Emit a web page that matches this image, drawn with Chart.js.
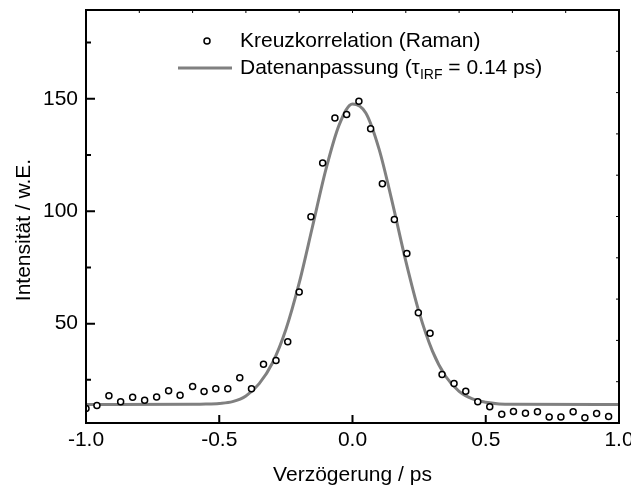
<!DOCTYPE html>
<html>
<head>
<meta charset="utf-8">
<script src="https://cdn.jsdelivr.net/npm/chart.js@4.4.1/dist/chart.umd.min.js"></script>
<style>
  html, body { margin: 0; padding: 0; background: #fff; }
</style>
</head>
<body>
<canvas id="chart" width="631" height="491"></canvas>
<script>
// Kreuzkorrelation (Raman): delay in ps and intensity in w.E.
const delayPs = [-1.0, -0.959, -0.914, -0.870, -0.825, -0.780, -0.735, -0.690, -0.647, -0.600,
  -0.557, -0.513, -0.468, -0.423, -0.379, -0.334, -0.287, -0.243, -0.200, -0.156,
  -0.112, -0.066, -0.022, 0.024, 0.068, 0.112, 0.157, 0.204, 0.247, 0.291,
  0.336, 0.381, 0.425, 0.470, 0.515, 0.560, 0.604, 0.649, 0.694, 0.738,
  0.782, 0.828, 0.872, 0.916, 0.961];
const crossCorr = [12.2, 13.6, 17.9, 15.2, 17.3, 15.9, 17.4, 20.2, 18.1, 22.0,
  19.8, 21.0, 21.0, 25.9, 21.0, 31.9, 33.6, 41.9, 64.1, 97.5,
  121.5, 141.5, 143.0, 148.9, 136.7, 112.2, 96.3, 81.2, 54.8, 45.7,
  27.4, 23.4, 19.9, 15.2, 13.0, 9.7, 10.9, 10.1, 10.8, 8.5,
  8.5, 10.8, 8.1, 10.0, 8.7];

// Datenanpassung (fit curve)
const fitX = [-1.0, -0.6, -0.55, -0.5, -0.45, -0.4, -0.35, -0.3, -0.25, -0.2,
  -0.15, -0.1, -0.05, 0.0, 0.05, 0.1, 0.15, 0.2, 0.25, 0.3,
  0.35, 0.4, 0.45, 0.5, 0.55, 0.6, 1.0];
const fitY = [14.0, 14.1, 14.2, 14.5, 15.3, 17.8, 23.3, 32.6, 47.4, 68.1,
  93.2, 118.5, 138.4, 147.7, 143.7, 127.5, 103.6, 77.8, 55.0, 37.8,
  26.5, 19.9, 16.5, 15.0, 14.3, 14.1, 14.0];

const xTicks = [-1.0, -0.5, 0.0, 0.5, 1.0];
const yTicks = [50, 100, 150];
const yMinorTicks = [25, 75, 125, 175];
const yTitle = 'Intensität / w.E.';

const FONT = "'Liberation Sans', Arial, sans-serif";
const GREY = '#808080';

// frame, inward ticks, y title and the legend (with subscript)
const framePlugin = {
  id: 'frame',
  afterDraw(chart) {
    const { ctx, chartArea: a, scales: { x, y } } = chart;
    ctx.save();
    ctx.strokeStyle = '#000';
    ctx.lineWidth = 2;
    ctx.strokeRect(a.left, a.top, a.right - a.left, a.bottom - a.top);

    ctx.beginPath();
    xTicks.forEach(v => {
      const px = x.getPixelForValue(v);
      ctx.moveTo(px, a.bottom);
      ctx.lineTo(px, a.bottom - 8);
    });
    yTicks.forEach(v => {
      const py = y.getPixelForValue(v);
      ctx.moveTo(a.left, py);
      ctx.lineTo(a.left + 9, py);
    });
    yMinorTicks.forEach(v => {
      const py = y.getPixelForValue(v);
      ctx.moveTo(a.left, py);
      ctx.lineTo(a.left + 5, py);
    });
    ctx.stroke();

    // tiny ticks on the top and right axes
    ctx.lineWidth = 1;
    ctx.beginPath();
    for (let i = 1; i < 10; i++) {
      const px = a.left + (a.right - a.left) * i / 10;
      ctx.moveTo(px, a.top);
      ctx.lineTo(px, a.top + 3);
      const py = a.top + (a.bottom - a.top) * i / 10;
      ctx.moveTo(a.right, py);
      ctx.lineTo(a.right - 3, py);
    }
    ctx.stroke();

    ctx.fillStyle = '#000';
    ctx.textBaseline = 'middle';
    ctx.font = '21px ' + FONT;

    // y axis title, sits a bit below the middle of the axis
    ctx.save();
    ctx.translate(24, 230);
    ctx.rotate(-Math.PI / 2);
    ctx.textAlign = 'center';
    ctx.fillText(yTitle, 0, 0);
    ctx.restore();

    // legend
    ctx.textAlign = 'left';
    ctx.beginPath();
    ctx.arc(207, 41, 3, 0, Math.PI * 2);
    ctx.lineWidth = 1.5;
    ctx.strokeStyle = '#000';
    ctx.stroke();
    ctx.fillText('Kreuzkorrelation (Raman)', 240, 41);

    ctx.beginPath();
    ctx.moveTo(178, 68);
    ctx.lineTo(232, 68);
    ctx.strokeStyle = GREY;
    ctx.lineWidth = 3;
    ctx.stroke();

    let tx = 240;
    const part1 = 'Datenanpassung (\u03C4';
    ctx.fillText(part1, tx, 68);
    tx += ctx.measureText(part1).width;
    ctx.font = '14px ' + FONT;
    ctx.fillText('IRF', tx, 75);
    tx += ctx.measureText('IRF').width;
    ctx.font = '21px ' + FONT;
    ctx.fillText(' = 0.14 ps)', tx, 68);
    ctx.restore();
  }
};

new Chart(document.getElementById('chart'), {
  type: 'scatter',
  data: {
    datasets: [
      {
        label: 'Kreuzkorrelation (Raman)',
        data: delayPs.map((d, i) => ({ x: d, y: crossCorr[i] })),
        pointStyle: 'circle',
        pointRadius: 3,
        pointBorderWidth: 1.5,
        pointBorderColor: '#000',
        pointBackgroundColor: '#fff',
        showLine: false,
        clip: 0
      },
      {
        label: 'Datenanpassung',
        data: fitX.map((d, i) => ({ x: d, y: fitY[i] })),
        showLine: true,
        borderColor: GREY,
        borderWidth: 3,
        pointRadius: 0,
        cubicInterpolationMode: 'monotone',
        clip: 0
      }
    ]
  },
  options: {
    responsive: false,
    animation: false,
    devicePixelRatio: 1,
    layout: { padding: { top: 10, right: 12, left: 0, bottom: 0 } },
    plugins: { legend: { display: false }, tooltip: { enabled: false } },
    scales: {
      x: {
        type: 'linear',
        min: -1,
        max: 1,
        afterBuildTicks: s => { s.ticks = xTicks.map(v => ({ value: v })); },
        afterFit: s => { s.height = 68; s.paddingLeft = 0; s.paddingRight = 0; },
        grid: { display: false, drawTicks: false },
        border: { display: true, color: '#000', width: 2 },
        ticks: {
          callback: v => v.toFixed(1),
          color: '#000',
          font: { family: FONT, size: 21 },
          padding: 5,
          maxRotation: 0,
          autoSkip: false
        },
        title: {
          display: true,
          text: 'Verzögerung / ps',
          color: '#000',
          font: { family: FONT, size: 21 },
          padding: { top: 0, bottom: 3 }
        }
      },
      y: {
        type: 'linear',
        min: 5.8,
        max: 189.5,
        afterBuildTicks: s => { s.ticks = yTicks.map(v => ({ value: v })); },
        afterFit: s => { s.width = 86; s.paddingTop = 0; s.paddingBottom = 0; },
        grid: { display: false, drawTicks: false },
        border: { display: true, color: '#000', width: 2 },
        ticks: {
          color: '#000',
          font: { family: FONT, size: 21 },
          padding: 8
        },
        title: { display: false }
      }
    }
  },
  plugins: [framePlugin]
});
</script>
</body>
</html>
